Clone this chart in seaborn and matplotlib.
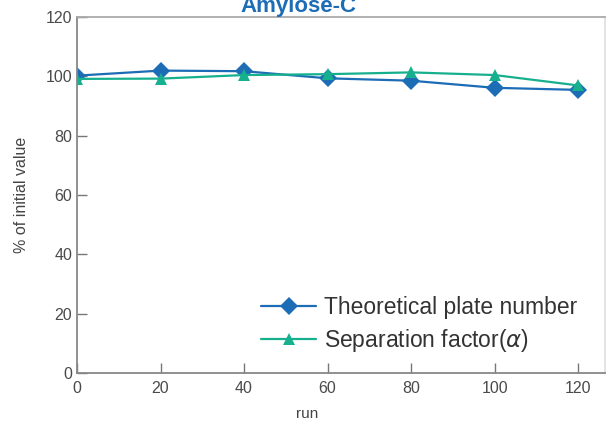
import pandas as pd
import matplotlib.pyplot as plt
import seaborn as sns

# values
runs = [0, 20, 40, 60, 80, 100, 120]
plate_number = [100.2, 101.9, 101.7, 99.3, 98.5, 96.1, 95.4]
separation_factor = [99.1, 99.2, 100.4, 100.7, 101.3, 100.4, 96.9]
series_names = ['Theoretical plate number', r'Separation factor($\alpha$)']

sns.set_theme(style='white')
plt.rcParams['font.family'] = ['Liberation Sans', 'DejaVu Sans']
plt.rcParams['mathtext.fontset'] = 'dejavusans'

df = pd.DataFrame({
    'run': runs * 2,
    'value': plate_number + separation_factor,
    'series': [series_names[0]] * len(runs) + [series_names[1]] * len(runs),
})

blue = '#1c6cb6'
green = '#17b08f'

fig = plt.figure(figsize=(6.06, 4.22), dpi=100)
ax = fig.add_axes([0.127, 0.116, 0.872, 0.844])

sns.lineplot(data=df, x='run', y='value', hue='series', style='series',
             palette=[blue, green], markers=['D', '^'], dashes=False,
             markersize=9, markeredgewidth=0, linewidth=1.6, ax=ax)

ax.set_xlim(0, 126.5)
ax.set_ylim(0, 120)
ax.set_xticks(runs)
ax.set_yticks([0, 20, 40, 60, 80, 100, 120])
ax.tick_params(left=True, bottom=True, direction='in', length=7, width=1.0,
               color='#777777', labelsize=11.5, labelcolor='#4a4a4a')
ax.tick_params(axis='x', pad=6)
for name, sp in ax.spines.items():
    sp.set_color('#888888')
    sp.set_linewidth(1.3)
ax.spines['top'].set_color('#aaaaaa')
ax.spines['right'].set_color('#e0e0e0')

ax.set_xlabel('run', fontsize=11, color='#444444', labelpad=8)
ax.xaxis.set_label_coords(0.435, -0.095)
ax.set_ylabel('% of initial value', fontsize=11.5, color='#444444', labelpad=12)

handles, labels = ax.get_legend_handles_labels()
ax.legend(handles, labels, loc='upper left', bbox_to_anchor=(0.31, 0.275),
          frameon=False, fontsize=16.5, handlelength=2.4, labelspacing=0.35,
          handletextpad=0.35, labelcolor='#333333')

fig.text(0.493, 0.9716, 'Amylose-C', ha='center', va='baseline',
         fontsize=16, fontweight='bold', color=blue)

fig.savefig('out.png', dpi=100)
